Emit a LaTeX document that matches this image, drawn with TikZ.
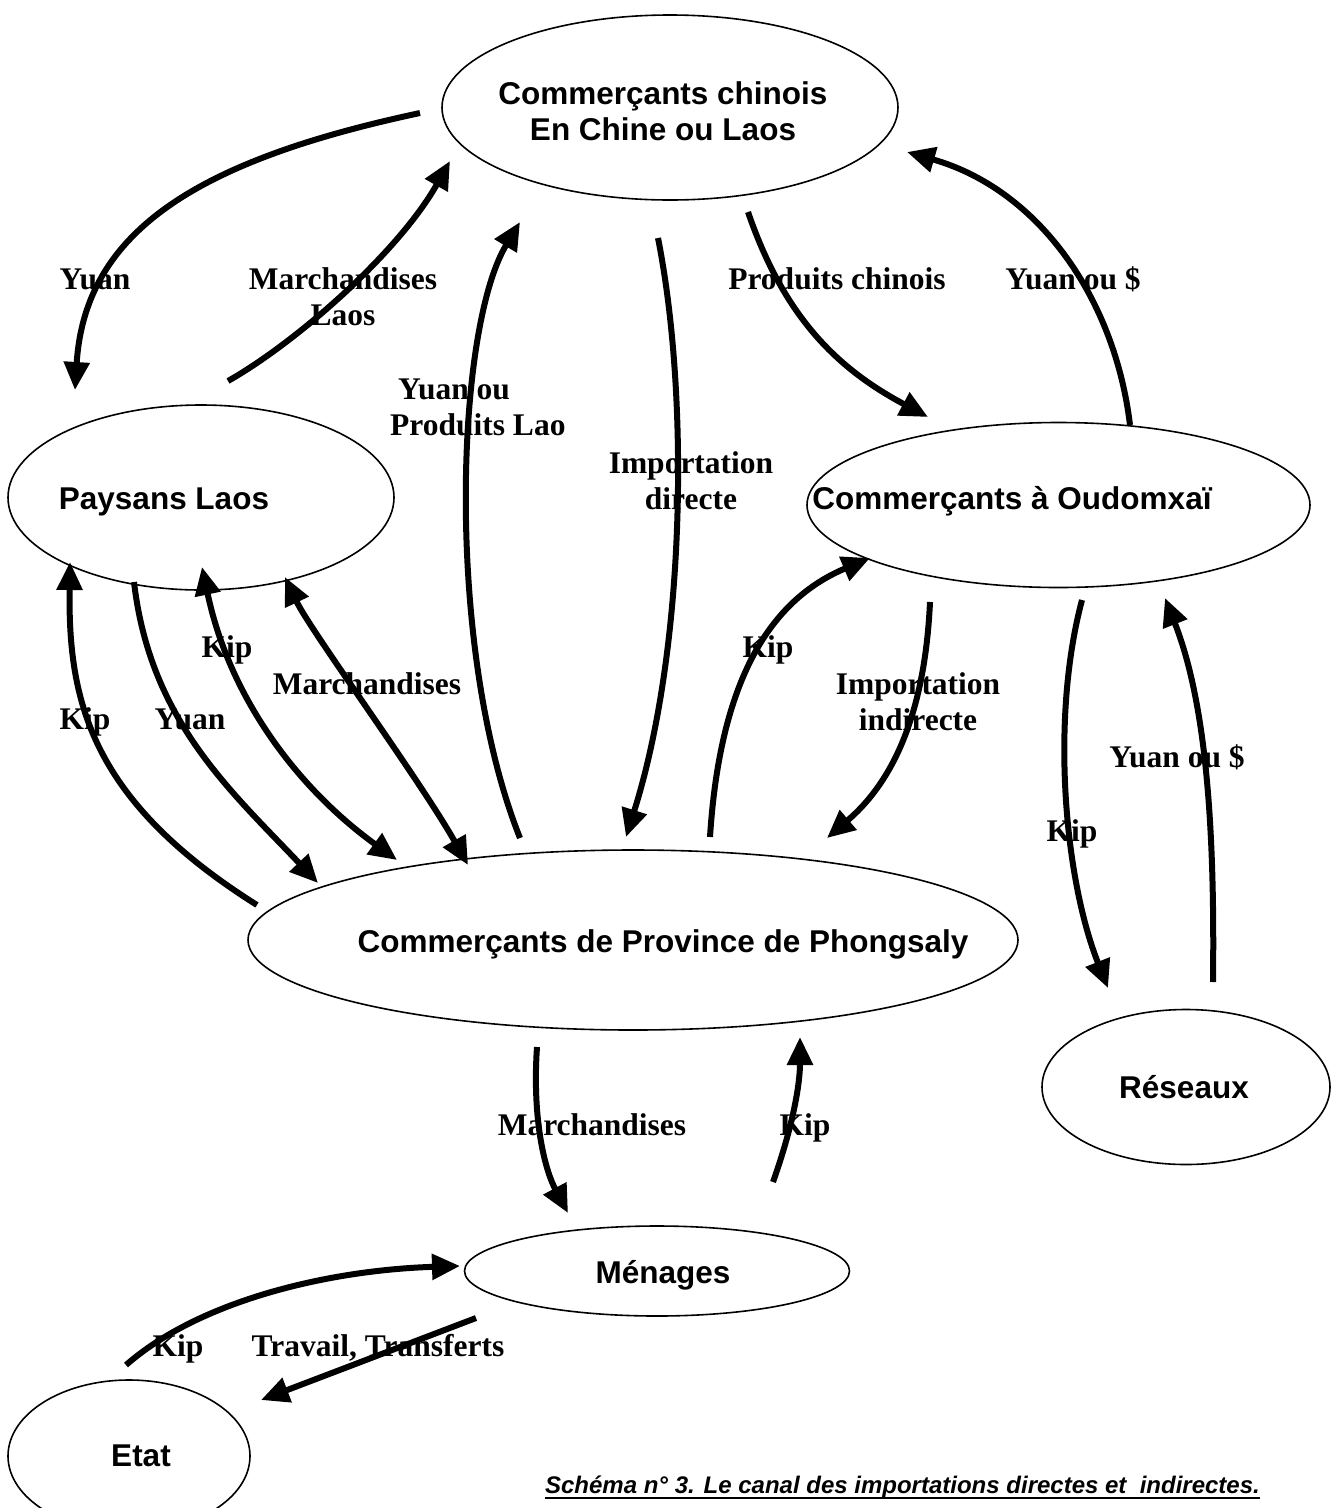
\documentclass[tikz,border=0pt]{standalone}
\usepackage{fontspec}
\setmainfont{Liberation Serif}
\setsansfont{Liberation Sans}
\usetikzlibrary{shapes.geometric,arrows.meta}
\tikzset{
  ell/.style={draw, ellipse, line width=1.6pt, inner sep=0pt},
  ntxt/.style={font=\sffamily\bfseries\fontsize{31.5}{36}\selectfont, inner sep=0pt, anchor=base, align=center},
  ltxt/.style={font=\rmfamily\bfseries\fontsize{31.5}{36}\selectfont, inner sep=0pt, anchor=base, align=center},
  captxt/.style={font=\sffamily\bfseries\itshape\fontsize{24}{28}\selectfont, inner sep=0pt, anchor=base},
  flow/.style={line width=6pt, -{Triangle[length=28pt,width=25pt]}},
  flowtwo/.style={line width=6pt, {Triangle[length=28pt,width=25pt]}-{Triangle[length=28pt,width=25pt]}},
}
\begin{document}
\begin{tikzpicture}[x=1pt,y=-1pt]
\useasboundingbox (0,0) rectangle (1335,1508);
% ellipses
\node[ell, minimum width=456pt, minimum height=185pt] (chn) at (670,107.5) {};
\node[ell, minimum width=386pt, minimum height=185pt] (pay) at (201,497.5) {};
\node[ell, minimum width=503pt, minimum height=165pt] (oud) at (1058.5,505) {};
\node[ell, minimum width=770pt, minimum height=180pt] (pho) at (633,940) {};
\node[ell, minimum width=288pt, minimum height=155pt] (res) at (1186,1087) {};
\node[ell, minimum width=385pt, minimum height=90pt] (men) at (657,1271) {};
\node[ell, minimum width=242pt, minimum height=152pt] (eta) at (129,1456) {};
% node texts
\node[ntxt] (tchn) at (663,140.5) {Commerçants chinois\\En Chine ou Laos};
\node[ntxt] (tpay) at (164,509) {Paysans Laos};
\node[ntxt] (toud) at (1012,509) {Commerçants à Oudomxaï};
\node[ntxt] (tpho) at (663,952) {Commerçants de Province de Phongsaly};
\node[ntxt] (tres) at (1184,1098) {Réseaux};
\node[ntxt] (tmen) at (663,1283) {Ménages};
\node[ntxt] (teta) at (141,1466) {Etat};
% connector end points
\coordinate (a1s) at (420,113);  \coordinate (a1e) at (75,390);
\coordinate (a2s) at (228,381);  \coordinate (a2e) at (450,161);
\coordinate (a3s) at (520,838);  \coordinate (a3e) at (520,222);
\coordinate (a4s) at (658,238);  \coordinate (a4e) at (626,837);
\coordinate (a5s) at (748,212);  \coordinate (a5e) at (928,417);
\coordinate (a6s) at (1130,425); \coordinate (a6e) at (907,152);
\coordinate (a7s) at (257,905);  \coordinate (a7e) at (70,562);
\coordinate (a8s) at (134,582);  \coordinate (a8e) at (318,883);
\coordinate (a9s) at (202,567);  \coordinate (a9e) at (397,860);
\coordinate (a10s) at (285,577); \coordinate (a10e) at (468,865);
\coordinate (a11s) at (710,837); \coordinate (a11e) at (870,558);
\coordinate (a12s) at (930,602); \coordinate (a12e) at (827,838);
\coordinate (a13s) at (1082,600); \coordinate (a13e) at (1108,988);
\coordinate (a14s) at (1213,982); \coordinate (a14e) at (1165,598);
\coordinate (a15s) at (537,1047); \coordinate (a15e) at (568,1213);
\coordinate (a16s) at (773,1182); \coordinate (a16e) at (800,1037);
\coordinate (a17s) at (126,1365); \coordinate (a17e) at (460,1266);
\coordinate (a18s) at (476,1318); \coordinate (a18e) at (261,1400);
% connectors
\draw[flow] (a1s) .. controls (200,160) and (85,230) .. (a1e);
\draw[flow] (a2s) .. controls (300,340) and (400,250) .. (a2e);
\draw[flow] (a3s) .. controls (445,650) and (455,330) .. (a3e);
\draw[flow] (a4s) .. controls (690,400) and (685,650) .. (a4e);
\draw[flow] (a5s) .. controls (785,320) and (840,370) .. (a5e);
\draw[flow] (a6s) .. controls (1115,300) and (1040,190) .. (a6e);
\draw[flow] (a7s) .. controls (90,800) and (68,700) .. (a7e);
\draw[flow] (a8s) .. controls (150,720) and (230,790) .. (a8e);
\draw[flowtwo] (a9s) .. controls (230,700) and (300,790) .. (a9e);
\draw[flowtwo] (a10s) .. controls (310,630) and (420,780) .. (a10e);
\draw[flow] (a11s) .. controls (720,680) and (770,600) .. (a11e);
\draw[flow] (a12s) .. controls (925,710) and (895,780) .. (a12e);
\draw[flow] (a13s) .. controls (1050,720) and (1065,880) .. (a13e);
\draw[flow] (a14s) .. controls (1215,820) and (1205,700) .. (a14e);
\draw[flow] (a15s) .. controls (532,1120) and (545,1170) .. (a15e);
\draw[flow] (a16s) .. controls (795,1120) and (800,1080) .. (a16e);
\draw[flow] (a17s) .. controls (200,1300) and (330,1270) .. (a17e);
\draw[flow] (a18s) -- (a18e);
% connector labels
\node[ltxt] (l1) at (95,289) {Yuan};
\node[ltxt] (l2) at (343,325) {Marchandises\\Laos};
\node[ltxt, anchor=base west, align=left] (l3) at (390,435) {\hspace*{8pt}Yuan ou\\Produits Lao};
\node[ltxt] (l4) at (691,509) {Importation\\directe};
\node[ltxt] (l5) at (837,289) {Produits chinois};
\node[ltxt] (l6) at (1073,289) {Yuan ou \$};
\node[ltxt] (l7) at (85,729) {Kip};
\node[ltxt] (l8) at (190,729) {Yuan};
\node[ltxt] (l9) at (227,657) {Kip};
\node[ltxt] (l10) at (367,694) {Marchandises};
\node[ltxt] (l11) at (768,657) {Kip};
\node[ltxt] (l12) at (918,730) {Importation\\indirecte};
\node[ltxt] (l13) at (1072,841) {Kip};
\node[ltxt] (l14) at (1177,767) {Yuan ou \$};
\node[ltxt] (l15) at (592,1135) {Marchandises};
\node[ltxt] (l16) at (805,1135) {Kip};
\node[ltxt] (l17) at (178,1356) {Kip};
\node[ltxt] (l18) at (378,1356) {Travail, Transferts};
% caption
\node[captxt] (cap) at (902.5,1493) {Schéma n° 3. Le canal des importations directes et\ \ indirectes.};
\draw[line width=2.5pt] ([yshift=-5pt]cap.base west) -- ([yshift=-5pt]cap.base east);
\end{tikzpicture}
\end{document}
